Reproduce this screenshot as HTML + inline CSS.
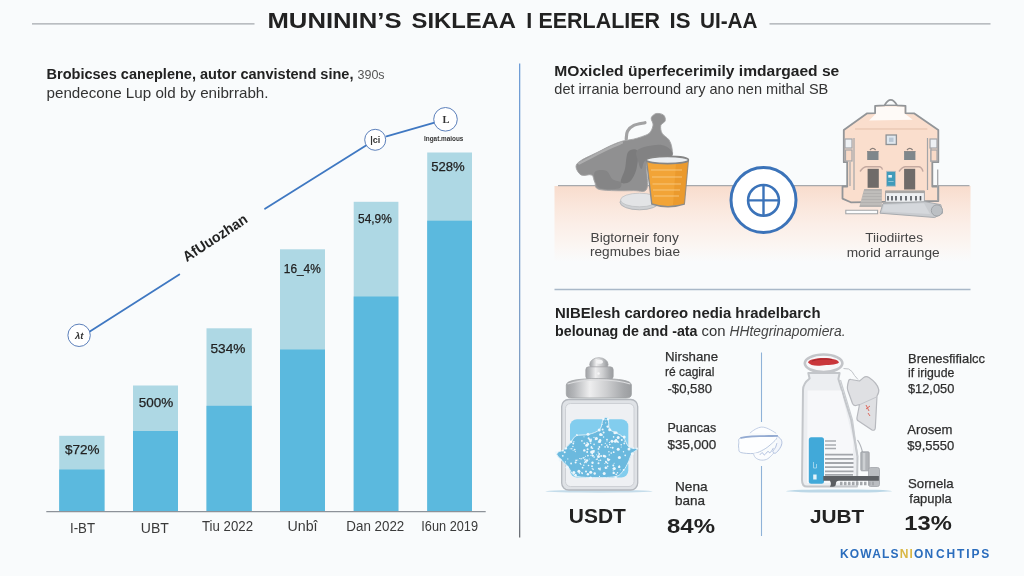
<!DOCTYPE html>
<html lang="en">
<head>
<meta charset="utf-8">
<title>Infographic</title>
<style>
html,body{margin:0;padding:0;background:#f9fbfc;}
body{width:1024px;height:576px;overflow:hidden;position:relative;font-family:"Liberation Sans",sans-serif;}
svg{position:absolute;left:0;top:0;display:block}
text{font-family:"Liberation Sans",sans-serif;fill:#2a2a2a}
.b{font-weight:bold}
.lbl{font-size:13px;fill:#222;stroke:#222;stroke-width:0.25px}
.ax{font-size:14px;fill:#3a3a3a}
.cap{font-size:13px;fill:#444}
.v{font-size:13px;fill:#2e2e2e;stroke:#2e2e2e;stroke-width:0.25px}
</style>
</head>
<body>
<svg width="1024" height="576" viewBox="0 0 1024 576">
<defs>
<linearGradient id="peach" x1="0" y1="0" x2="0" y2="1">
<stop offset="0" stop-color="#f8dccd"/>
<stop offset="0.25" stop-color="#fae6db"/>
<stop offset="0.5" stop-color="#fbeee7"/>
<stop offset="0.8" stop-color="#fbf6f3"/>
<stop offset="1" stop-color="#f9fbfc"/>
</linearGradient>
<linearGradient id="silver" x1="0" y1="0" x2="1" y2="0">
<stop offset="0" stop-color="#a0a2a5"/>
<stop offset="0.12" stop-color="#b4b6b9"/>
<stop offset="0.36" stop-color="#eeeeef"/>
<stop offset="0.62" stop-color="#cdced0"/>
<stop offset="0.88" stop-color="#a6a8ab"/>
<stop offset="1" stop-color="#9b9da0"/>
</linearGradient>
<linearGradient id="divg" x1="0" y1="0" x2="0" y2="1">
<stop offset="0" stop-color="#6f9dd6"/>
<stop offset="0.6" stop-color="#7f9fc6"/>
<stop offset="0.9" stop-color="#7d8ea6"/>
<stop offset="1" stop-color="#6a6d72"/>
</linearGradient>
</defs>
<rect width="1024" height="576" fill="#f9fbfc"/>

<!-- ===== TITLE ===== -->
<g id="title">
<line x1="32" y1="23.8" x2="254.5" y2="23.8" stroke="#a4a9ae" stroke-width="1.2"/>
<line x1="769.5" y1="23.8" x2="990.5" y2="23.8" stroke="#a4a9ae" stroke-width="1.2"/>
<text id="ttl" y="27.6" class="b" font-size="21.5" style="fill:#222"><tspan x="267.5" textLength="134" lengthAdjust="spacingAndGlyphs">MUNININ’S</tspan><tspan x="411.5" textLength="104.5" lengthAdjust="spacingAndGlyphs">SIKLEAA</tspan><tspan x="526.3">I</tspan><tspan x="538.5" textLength="121.5" lengthAdjust="spacingAndGlyphs">EERLALIER</tspan><tspan x="669.5" textLength="21" lengthAdjust="spacingAndGlyphs">IS</tspan><tspan x="700" textLength="57.5" lengthAdjust="spacingAndGlyphs">UI-AA</tspan></text>
</g>

<!-- divider -->
<rect x="519" y="63.5" width="1.3" height="474" fill="url(#divg)"/>

<!-- ===== LEFT HEADER ===== -->
<g id="lefthead">
<text x="46.5" y="78.8" font-size="14.5" style="fill:#222"><tspan class="b" textLength="307" lengthAdjust="spacingAndGlyphs">Brobicses caneplene, autor canvistend sine,</tspan><tspan style="fill:#555" dx="4" font-size="12.5">390s</tspan></text>
<text id="lh2" x="46.5" y="98" font-size="14.5" style="fill:#333" textLength="222" lengthAdjust="spacingAndGlyphs">pendecone Lup old by enibrrabh.</text>
</g>

<!-- ===== BAR CHART ===== -->
<g id="chart">
<!-- bars: light then dark -->
<rect x="59.2" y="435.8" width="45.3" height="76" fill="#aed8e4"/>
<rect x="59.2" y="469.5" width="45.3" height="42" fill="#5bb9de"/>
<rect x="133" y="385.5" width="45" height="126" fill="#aed8e4"/>
<rect x="133" y="431" width="45" height="80.5" fill="#5bb9de"/>
<rect x="206.5" y="328.3" width="45.3" height="183" fill="#aed8e4"/>
<rect x="206.5" y="405.8" width="45.3" height="105.7" fill="#5bb9de"/>
<rect x="280" y="249.3" width="45" height="262" fill="#aed8e4"/>
<rect x="280" y="349.5" width="45" height="162" fill="#5bb9de"/>
<rect x="353.7" y="201.8" width="44.7" height="309.7" fill="#aed8e4"/>
<rect x="353.7" y="296.5" width="44.7" height="215" fill="#5bb9de"/>
<rect x="427.2" y="152.5" width="44.8" height="359" fill="#aed8e4"/>
<rect x="427.2" y="220.7" width="44.8" height="290.8" fill="#5bb9de"/>
<line x1="46.3" y1="511.7" x2="485.7" y2="511.7" stroke="#8d9299" stroke-width="1.2"/>
<!-- bar labels -->
<text class="lbl" x="65" y="454.3" textLength="34.5" lengthAdjust="spacingAndGlyphs">$72%</text>
<text class="lbl" x="138.8" y="406.8" textLength="34.5" lengthAdjust="spacingAndGlyphs">500%</text>
<text class="lbl" x="210.5" y="353" textLength="35" lengthAdjust="spacingAndGlyphs">534%</text>
<text class="lbl" x="283.8" y="272.5" textLength="37" lengthAdjust="spacingAndGlyphs">16_4%</text>
<text class="lbl" x="358" y="223" textLength="33.8" lengthAdjust="spacingAndGlyphs">54,9%</text>
<text class="lbl" x="431.2" y="170.5" textLength="33.5" lengthAdjust="spacingAndGlyphs">528%</text>
<!-- axis labels -->
<text class="ax" x="70" y="532.5" textLength="25" lengthAdjust="spacingAndGlyphs">I-BT</text>
<text class="ax" x="140.8" y="532.5" textLength="28" lengthAdjust="spacingAndGlyphs">UBT</text>
<text class="ax" x="202" y="530.5" textLength="51" lengthAdjust="spacingAndGlyphs">Tiu 2022</text>
<text class="ax" x="287.5" y="530.8" textLength="30" lengthAdjust="spacingAndGlyphs">Unbî</text>
<text class="ax" x="346.3" y="530.8" textLength="58" lengthAdjust="spacingAndGlyphs">Dan 2022</text>
<text class="ax" x="421.3" y="530.8" textLength="56.7" lengthAdjust="spacingAndGlyphs">I6un 2019</text>
<!-- trend line -->
<g stroke="#3f78c2" stroke-width="1.8" stroke-linecap="round" fill="none">
<line x1="90.2" y1="331.3" x2="179.3" y2="274.5"/>
<line x1="265" y1="208.7" x2="366" y2="145.5"/>
<line x1="386.5" y1="136.3" x2="434.5" y2="122.7"/>
</g>
<g fill="#fff" stroke="#5c80bb" stroke-width="1">
<circle cx="79.1" cy="335.3" r="11.2"/>
<circle cx="375.2" cy="139.8" r="10.5"/>
<circle cx="445.5" cy="119.3" r="11.8"/>
</g>
<text x="79.3" y="338.6" font-size="9.5" text-anchor="middle" class="b" style="fill:#333;font-style:italic">λt</text>
<text x="375.2" y="143" font-size="9" text-anchor="middle" class="b" style="fill:#333">|ci</text>
<text x="446" y="122.8" font-size="10.5" text-anchor="middle" class="b" style="fill:#333;font-family:'Liberation Serif',serif">L</text>
<text x="424" y="141" font-size="7.6" class="b" style="fill:#333" textLength="39.4" lengthAdjust="spacingAndGlyphs">Ingat.maious</text>
<text class="b" font-size="14.5" style="fill:#222" transform="translate(186.8,262.2) rotate(-33.2)" textLength="74" lengthAdjust="spacingAndGlyphs">AfUuozhan</text>
</g>

<!-- ===== RIGHT TOP ===== -->
<g id="righttop">
<text x="554.3" y="75.8" font-size="14.5" class="b" style="fill:#222" textLength="285" lengthAdjust="spacingAndGlyphs">MOxicled üperfecerimily imdargaed se</text>
<text x="554.3" y="94.3" font-size="14.5" style="fill:#333" textLength="274" lengthAdjust="spacingAndGlyphs">det irrania berround ary ano nen mithal SB</text>
<!-- shelf -->
<rect x="554.5" y="186" width="416" height="76" fill="url(#peach)"/>
<line x1="558" y1="185.6" x2="969.5" y2="185.6" stroke="#a6a9ad" stroke-width="1.4"/>
<!-- grey blob -->
<path id="blob" d="M576.0,166.7 C576.0,164.2 577.6,162.8 581.2,160.4 C584.9,158.0 592.7,154.7 597.9,152.1 C603.1,149.5 608.3,146.6 612.5,144.8 C616.7,143.0 619.4,142.0 622.9,141.0 C626.4,140.1 630.2,139.9 633.3,139.2 C636.5,138.4 639.0,137.7 641.7,136.7 C644.4,135.6 647.7,134.9 649.6,132.9 C651.5,131.0 652.8,127.5 653.1,125.0 C653.4,122.5 650.7,119.8 651.2,117.9 C651.8,116.0 654.2,114.0 656.2,113.5 C658.3,113.1 662.0,113.8 663.5,115.0 C665.0,116.2 665.7,119.1 665.2,120.8 C664.8,122.6 661.4,123.3 660.8,125.4 C660.3,127.5 660.8,131.0 662.1,133.3 C663.4,135.7 667.1,137.2 668.8,139.6 C670.4,142.0 671.5,145.1 671.9,147.9 C672.3,150.8 673.5,154.9 671.2,156.7 C669.0,158.4 662.4,157.7 658.3,158.3 C654.3,159.0 648.8,155.4 646.9,160.4 C645.0,165.5 649.1,183.5 646.9,188.5 C644.6,193.6 641.1,190.5 633.3,190.6 C625.5,190.8 606.4,191.0 600.0,189.6 C593.6,188.2 596.2,184.7 594.8,182.3 C593.4,179.9 593.9,176.2 591.7,175.0 C589.4,173.8 583.9,176.4 581.2,175.0 C578.6,173.6 576.0,169.1 576.0,166.7Z" fill="#909091" stroke="#a3a3a4" stroke-width="0.9"/>
<path d="M626.2,139.2 C626.5,137.8 626.2,133.5 627.5,131.2 C628.8,129.0 630.8,126.8 633.8,125.4 C636.7,124.0 643.1,123.2 645.0,122.7" fill="none" stroke="#a2a2a3" stroke-width="3.2" stroke-linecap="round"/>
<path d="M579.2,163.5 C582.3,161.9 592.4,156.6 597.9,153.8 C603.5,150.9 608.5,148.5 612.5,146.7 C616.5,144.8 620.3,143.4 621.9,142.7" fill="none" stroke="#adadae" stroke-width="2.4" stroke-linecap="round"/>
<path d="M628.1,152.1 C630.2,149.1 636.1,148.3 637.5,151.0 C638.9,153.8 637.7,163.7 636.5,168.8 C635.2,173.8 632.8,179.0 630.2,181.2 C627.6,183.5 621.7,184.4 620.8,182.3 C620.0,180.2 623.8,173.8 625.0,168.8 C626.2,163.7 626.0,155.0 628.1,152.1Z" fill="#7b7b7c"/>
<path d="M637.5,150.0 C640.8,147.0 653.0,145.0 658.3,144.8 C663.7,144.6 667.7,147.0 669.8,149.0 C671.9,150.9 674.7,154.5 670.8,156.2 C667.0,158.0 651.7,157.3 646.9,159.4 C642.0,161.5 643.1,168.2 641.7,168.8 C640.3,169.3 639.2,165.6 638.5,162.5 C637.8,159.4 634.2,153.0 637.5,150.0Z" fill="#828283"/>
<path d="M594.8,171.9 C596.5,170.0 603.3,169.6 606.2,170.8 C609.2,172.0 610.1,177.3 612.5,179.2 C614.9,181.1 619.8,180.7 620.8,182.3 C621.9,183.9 622.0,187.5 618.8,188.5 C615.5,189.6 604.9,189.6 601.0,188.5 C597.2,187.5 596.9,185.1 595.8,182.3 C594.8,179.5 593.1,173.8 594.8,171.9Z" fill="#858586"/>
<!-- lid -->
<ellipse cx="639.5" cy="202.2" rx="19.5" ry="7.6" fill="#cfd1d4" stroke="#b4b6b9" stroke-width="1"/>
<ellipse cx="639.5" cy="200" rx="19" ry="6.8" fill="#e3e4e6" stroke="#bfc1c4" stroke-width="0.8"/>
<!-- cup -->
<path d="M646.5,160 L651.8,204 Q668,209.5 684.3,204 L688.3,160 Z" fill="#f2a437" stroke="#8c8c8c" stroke-width="1.4"/>
<path d="M676,163 L673,205 Q680,205 684.3,203.5 L688.3,160Z" fill="#e8952a" opacity="0.7"/>
<ellipse cx="667.4" cy="160" rx="21" ry="3.6" fill="#eceff2" stroke="#858585" stroke-width="1.6"/>
<g stroke="#f9cf8c" stroke-width="0.9" opacity="0.9">
<line x1="651" y1="170" x2="682" y2="170"/><line x1="652" y1="177" x2="682" y2="177"/><line x1="652.5" y1="184" x2="681" y2="184"/><line x1="653" y1="190" x2="680" y2="190"/><line x1="654" y1="196" x2="679" y2="196"/>
</g>
<!-- house -->
<path d="M843.8,138.6 L843.8,130.1 L867.2,113.3 L875.1,113.1 L875.1,105.8 L884.6,105.3 Q890.7,94.5 897.0,105.3 L905.5,105.8 L905.5,113.1 L914.0,113.3 L938.3,130.1 L938.3,138.6 L938.3,162.2 L932.3,162.2 L932.3,186.5 L938.3,186.5 L938.3,201.1 L927.4,201.1 L850.8,202.3 L842.5,198.6 L842.5,186.5 L847.2,186.5 L847.2,162.2 L843.8,162.2Z" fill="#fadecd"/>
<path d="M876,106.500 L904.600,106.500 L904.600,113.500 L912.800,119.800 L869.0,120.400 L876,113.500Z" fill="#fefaf7"/>
<path d="M884.6,105.3 Q890.7,94.5 897.0,105.3Z" fill="#f9fbfc"/>
<path d="M843.8,138.6 L843.8,130.1 L867.2,113.3 L875.1,113.1 L875.1,105.8 L884.6,105.3 Q890.7,94.5 897.0,105.3 L905.5,105.8 L905.5,113.1 L914.0,113.3 L938.3,130.1 L938.3,138.6 L938.3,162.2 L932.3,162.2 L932.3,186.5 L938.3,186.5 L938.3,201.1 L927.4,201.1 L850.8,202.3 L842.5,198.6 L842.5,186.5 L847.2,186.5 L847.2,162.2 L843.8,162.2Z" fill="none" stroke="#929598" stroke-width="1.8" stroke-linejoin="round"/>
<path d="M884.6,105.3 H897" stroke="#929598" stroke-width="1.4"/>
<line x1="855" y1="129" x2="927.4" y2="129" stroke="#e3bfa9" stroke-width="1"/>
<!-- wings -->
<g stroke="#a3a5a8" stroke-width="1.2" fill="none">
<line x1="854" y1="138" x2="854" y2="190"/><line x1="927.5" y1="138" x2="927.5" y2="190"/>
<line x1="850" y1="162" x2="850" y2="186"/><line x1="931" y1="140" x2="931" y2="162"/>
<rect x="845" y="139" width="7" height="9" fill="#eef1f4"/><rect x="845.5" y="150" width="6.5" height="11" fill="#f9dac7"/>
<rect x="930" y="139" width="7" height="9" fill="#eef1f4"/><rect x="931" y="150" width="6" height="11" fill="#f9dac7"/>
</g>
<line x1="937.7" y1="169.5" x2="937.7" y2="201" stroke="#a3a5a8" stroke-width="1.3"/>
<!-- clock -->
<rect x="886.1" y="135" width="10.3" height="9.5" fill="#dfe7ee" stroke="#8e9194" stroke-width="1.3"/>
<rect x="889" y="137.6" width="4.5" height="4.3" fill="#b9c6d3"/>
<!-- windows -->
<rect x="867.2" y="151.8" width="11.3" height="8.2" fill="#7f878b"/><rect x="904.1" y="151.8" width="11.3" height="8.2" fill="#7f878b"/>
<path d="M867,151.5 h11.8 M904,151.5 h11.6" stroke="#8a8a8a" stroke-width="1.2"/>
<path d="M870,150 q2.8,-3.4 5.6,0 M907,150 q2.8,-3.4 5.6,0" stroke="#8a7f7a" stroke-width="1.2" fill="none"/>
<!-- doors -->
<rect x="867.6" y="168.8" width="11.2" height="19" fill="#6f6b69"/><rect x="904.1" y="168.8" width="11.1" height="20.7" fill="#6f6b69"/>
<path d="M860,171.5 q3,-4.5 6,-4.8 h14 q2,0.5 2.5,3 M899,171.5 q3,-4.5 6,-4.8 h14 q3,0.5 4,5" stroke="#c4a9a0" stroke-width="1.4" fill="none"/>
<!-- sign -->
<rect x="886.4" y="171.3" width="9.1" height="14.9" fill="#3f9bba" stroke="#b9bcc0" stroke-width="0.8"/>
<rect x="888.3" y="175" width="3.6" height="2.6" fill="#e9f4f8"/><rect x="888.3" y="181" width="5.3" height="1" fill="#8cc4d6"/>
<!-- stairs, base -->
<path d="M864.2,189.1 L881.8,189.1 L881.8,207.1 L859.3,207.1Z" fill="#b3b1af"/>
<path d="M863.5,192 h18 M862.6,195 h19 M861.8,198 h20 M861,201 h20.6 M860.2,204 h21.4" stroke="#d2cfcc" stroke-width="0.8"/>
<path d="M845.8,210.2 h31.8 v3.6 h-31.8z" fill="#fbfcfd" stroke="#a3a5a8" stroke-width="1.1"/>
<!-- fence -->
<rect x="885.5" y="191.3" width="38.9" height="11" fill="#eef0f2" stroke="#a3a5a8" stroke-width="1"/>
<rect x="885.5" y="190.5" width="38.9" height="2.6" fill="#a8a6a4"/>
<path d="M888,196 v4.5 M892,196 v4.5 M896,196 v4.5 M901,196 v4.5 M906,196 v4.5 M911,196 v4.5 M916,196 v4.5 M920.5,196 v4.5" stroke="#4d5257" stroke-width="1.6"/>
<!-- slab + wheel -->
<path d="M883.0,203.5 L925.0,201.7 L940.8,204.7 L942.6,213.2 L934.7,217.5 L880.0,213.2Z" fill="#c9ccd0" stroke="#a7abaf" stroke-width="1"/>
<path d="M884,205 L924,203.2 L930,214 L882,211.5Z" fill="#d5d8dc"/>
<circle cx="936.9" cy="210.5" r="5.6" fill="#bcc0c4" stroke="#9fa3a7" stroke-width="1"/>
<!-- center icon -->
<circle cx="763.5" cy="200" r="32.5" fill="#fff" stroke="#3b73b9" stroke-width="3"/>
<circle cx="763.5" cy="200.4" r="15.4" fill="#fff" stroke="#3b73b9" stroke-width="2.6"/>
<path d="M763.5,185 V216 M748,200.4 H779" stroke="#3b73b9" stroke-width="2.4"/>
<!-- captions -->
<text class="cap" x="590.5" y="241.8" textLength="88.3" lengthAdjust="spacingAndGlyphs">Bigtorneir fony</text>
<text class="cap" x="590" y="256.3" textLength="90" lengthAdjust="spacingAndGlyphs">regmubes biae</text>
<text class="cap" x="865.3" y="241.7" textLength="57.7" lengthAdjust="spacingAndGlyphs">Tiiodiirtes</text>
<text class="cap" x="846.7" y="256.7" textLength="93" lengthAdjust="spacingAndGlyphs">morid arraunge</text>
<line x1="554.5" y1="289.5" x2="970.5" y2="289.5" stroke="#a9b8c8" stroke-width="1.3"/>
</g>


<!-- ===== RIGHT BOTTOM ===== -->
<g id="rightbottom">
<text x="555" y="318" font-size="14.5" class="b" style="fill:#222" textLength="265.5" lengthAdjust="spacingAndGlyphs">NIBElesh cardoreo nedia hradelbarch</text>
<text x="555" y="335.8" font-size="14.5" style="fill:#222"><tspan class="b" textLength="142.5" lengthAdjust="spacingAndGlyphs">belounag de and -ata</tspan><tspan dx="4" style="fill:#333" textLength="24" lengthAdjust="spacingAndGlyphs">con</tspan><tspan dx="4" style="fill:#444" font-style="italic" textLength="116" lengthAdjust="spacingAndGlyphs">HHtegrinapomiera.</tspan></text>
<!-- center divider + icon -->
<line x1="761.5" y1="352.5" x2="761.5" y2="422" stroke="#8fb2d8" stroke-width="1.1"/>
<line x1="761.5" y1="466" x2="761.5" y2="536" stroke="#8fb2d8" stroke-width="1.1"/>
<path d="M749.9,433.1 C750.8,432.4 753.4,430.2 755.4,429.2 C757.4,428.2 759.5,427.1 761.7,427.1 C763.9,427.0 766.2,427.8 768.6,428.9 C771.0,429.9 775.0,432.6 776.2,433.3" fill="#fdfeff" stroke="#bccae2" stroke-width="0.9"/>
<path d="M741.1,437.8 C737.3,438.9 739.1,441.2 738.8,443.1 C738.4,444.9 738.4,447.0 738.8,448.6 C739.1,450.2 738.4,451.7 740.8,452.5 C743.3,453.3 749.9,453.8 753.3,453.5 C756.8,453.2 758.9,452.1 761.7,450.7 C764.4,449.3 767.4,447.5 770.0,445.1 C772.6,442.8 778.6,437.8 777.2,436.4 C775.8,434.9 767.7,436.2 761.7,436.4 C755.6,436.6 744.9,436.7 741.1,437.8Z" fill="#fdfeff" stroke="#b3c3de" stroke-width="0.9"/>
<path d="M753.3,453.5 C753.7,454.2 754.3,456.6 755.4,457.6 C756.6,458.7 758.4,459.7 760.3,460.0 C762.1,460.3 764.7,460.2 766.5,459.4 C768.4,458.7 770.0,456.9 771.4,455.6 C772.8,454.3 774.3,452.3 774.9,451.7" fill="#fbfcfe" stroke="#b9c7e0" stroke-width="0.9"/>
<path d="M777.2,435.8 C777.9,436.5 780.3,438.3 781.1,439.6 C781.9,440.9 782.0,442.2 781.8,443.8 C781.6,445.3 780.8,447.1 779.7,448.6 C778.7,450.2 776.7,452.5 775.6,453.1 C774.4,453.6 772.8,452.6 772.8,451.7 C772.8,450.7 774.9,448.7 775.6,447.2 C776.2,445.8 776.7,443.8 776.9,443.1" fill="#f3f6fb" stroke="#a9badb" stroke-width="0.9"/>
<path d="M741.1,437.8 C742.9,437.5 748.1,436.7 751.9,436.4 C755.8,436.1 760.2,436.2 764.4,436.1 C768.7,436.0 775.1,435.9 777.2,435.8" fill="none" stroke="#94abd2" stroke-width="1.8" stroke-linecap="round"/>
<path d="M759.6,454.9 C760.0,454.5 761.6,452.8 762.4,452.8 C763.2,452.8 763.5,455.1 764.4,454.9 C765.4,454.6 767.0,451.7 767.9,451.4 C768.8,451.0 769.1,453.4 770.0,452.8 C770.9,452.2 772.9,448.7 773.5,447.9" fill="none" stroke="#a9badb" stroke-width="0.9"/>
<!-- jar -->
<ellipse cx="599" cy="491.3" rx="53.5" ry="1.4" fill="#c4dcea"/>
<rect x="561.7" y="399.5" width="76" height="90.5" rx="7" fill="#dfe2e6" stroke="#b3b7bd" stroke-width="1.3"/>
<rect x="565.5" y="403.500" width="68.5" height="83" rx="5" fill="#eef0f3" stroke="#cdd0d5" stroke-width="1"/>
<rect x="570" y="419.2" width="58.3" height="58.3" rx="7" fill="#82cdee"/>
<path d="M556.7,453.3 C557.1,451.7 561.3,451.5 563.6,449.7 C565.9,448.0 568.5,445.1 570.6,442.8 C572.6,440.5 573.1,437.2 576.1,435.8 C579.1,434.4 584.7,435.5 588.6,434.4 C592.5,433.4 597.3,432.0 599.7,429.4 C602.2,426.9 601.9,421.0 603.3,419.2 C604.7,417.3 607.0,416.7 608.1,418.3 C609.1,420.0 608.1,426.4 609.4,428.9 C610.8,431.3 614.1,431.7 616.4,433.1 C618.7,434.4 621.2,434.9 623.3,437.2 C625.4,439.5 626.6,445.0 628.9,446.9 C631.2,448.9 636.8,447.7 637.2,448.9 C637.7,450.0 633.1,451.7 631.7,453.9 C630.2,456.1 629.7,459.4 628.3,462.2 C626.9,465.0 625.6,468.1 623.3,470.6 C621.1,473.0 620.6,475.5 615.0,476.7 C609.4,477.8 596.7,477.7 590.0,477.5 C583.3,477.3 578.4,477.4 574.7,475.6 C571.0,473.7 570.1,469.1 567.8,466.4 C565.5,463.7 562.7,461.6 560.8,459.4 C559.0,457.3 556.2,455.0 556.7,453.3Z" fill="#6bb9de" stroke="#d9eef8" stroke-width="1"/>
<g fill="#eef7fc"><circle cx="593.2" cy="451.6" r="1.5"/><circle cx="593.1" cy="469.3" r="0.8"/><circle cx="571.8" cy="448.7" r="0.7"/><circle cx="609.3" cy="454.9" r="0.7"/><circle cx="606.9" cy="467.9" r="0.6"/><circle cx="594.1" cy="444.4" r="0.8"/><circle cx="598.5" cy="456.4" r="1.5"/><circle cx="609.4" cy="442.4" r="0.6"/><circle cx="613.6" cy="436.9" r="0.8"/><circle cx="602.1" cy="424.5" r="0.6"/><circle cx="624.7" cy="441.2" r="0.5"/><circle cx="573.8" cy="472.6" r="1.5"/><circle cx="587.0" cy="460.5" r="1.2"/><circle cx="562.8" cy="455.8" r="0.9"/><circle cx="584.0" cy="436.7" r="0.5"/><circle cx="601.7" cy="444.8" r="0.8"/><circle cx="590.5" cy="441.0" r="1.2"/><circle cx="621.3" cy="436.2" r="0.5"/><circle cx="573.9" cy="441.7" r="0.6"/><circle cx="605.8" cy="467.8" r="1.2"/><circle cx="603.6" cy="432.6" r="1.0"/><circle cx="586.7" cy="445.2" r="1.5"/><circle cx="587.9" cy="455.6" r="0.9"/><circle cx="616.2" cy="474.4" r="0.8"/><circle cx="612.0" cy="441.3" r="1.5"/><circle cx="605.3" cy="443.3" r="0.6"/><circle cx="565.7" cy="448.7" r="0.9"/><circle cx="576.1" cy="460.3" r="0.9"/><circle cx="590.7" cy="472.3" r="1.5"/><circle cx="575.3" cy="451.6" r="0.6"/><circle cx="579.4" cy="473.0" r="0.8"/><circle cx="599.5" cy="476.4" r="0.6"/><circle cx="586.0" cy="471.5" r="1.0"/><circle cx="609.6" cy="459.5" r="0.7"/><circle cx="604.2" cy="473.4" r="1.5"/><circle cx="607.9" cy="446.9" r="0.9"/><circle cx="563.0" cy="450.8" r="0.5"/><circle cx="613.3" cy="465.6" r="1.0"/><circle cx="585.1" cy="459.1" r="0.6"/><circle cx="620.2" cy="469.8" r="0.5"/><circle cx="607.0" cy="440.9" r="0.5"/><circle cx="605.7" cy="422.8" r="0.6"/><circle cx="615.3" cy="441.3" r="1.5"/><circle cx="592.2" cy="468.3" r="0.6"/><circle cx="598.5" cy="448.9" r="0.9"/><circle cx="605.1" cy="446.9" r="0.8"/><circle cx="619.4" cy="457.6" r="1.5"/><circle cx="581.1" cy="458.7" r="0.8"/><circle cx="598.5" cy="463.2" r="1.0"/><circle cx="609.8" cy="444.5" r="0.8"/><circle cx="583.2" cy="458.0" r="0.8"/><circle cx="607.7" cy="466.2" r="0.8"/><circle cx="603.6" cy="437.0" r="0.7"/><circle cx="594.7" cy="473.5" r="1.2"/><circle cx="587.6" cy="449.2" r="1.0"/><circle cx="614.3" cy="468.5" r="1.5"/><circle cx="582.6" cy="467.7" r="0.9"/><circle cx="613.7" cy="452.2" r="0.9"/><circle cx="608.9" cy="451.8" r="0.7"/><circle cx="619.3" cy="465.8" r="0.6"/><circle cx="592.7" cy="455.8" r="1.0"/><circle cx="572.9" cy="446.5" r="0.7"/><circle cx="614.1" cy="463.3" r="0.5"/><circle cx="584.7" cy="459.8" r="0.7"/><circle cx="588.5" cy="465.5" r="0.8"/><circle cx="593.3" cy="455.5" r="0.5"/><circle cx="587.1" cy="452.1" r="1.0"/><circle cx="594.1" cy="457.1" r="0.8"/><circle cx="584.4" cy="443.3" r="0.9"/><circle cx="583.8" cy="465.3" r="0.7"/><circle cx="629.0" cy="449.1" r="1.5"/><circle cx="574.7" cy="449.6" r="0.9"/><circle cx="623.5" cy="451.7" r="0.7"/><circle cx="598.8" cy="468.6" r="0.9"/><circle cx="581.9" cy="440.9" r="0.8"/><circle cx="600.6" cy="434.4" r="1.5"/><circle cx="573.1" cy="450.2" r="0.5"/><circle cx="605.4" cy="419.7" r="0.5"/><circle cx="598.3" cy="442.0" r="0.6"/><circle cx="596.3" cy="459.5" r="0.6"/><circle cx="596.4" cy="438.4" r="1.5"/><circle cx="577.8" cy="460.1" r="0.5"/><circle cx="614.9" cy="432.7" r="1.5"/><circle cx="565.4" cy="461.9" r="0.6"/><circle cx="625.2" cy="455.4" r="0.8"/><circle cx="613.1" cy="470.7" r="0.5"/><circle cx="587.1" cy="442.8" r="0.7"/><circle cx="600.1" cy="469.8" r="0.8"/><circle cx="599.4" cy="469.1" r="0.7"/><circle cx="575.6" cy="462.4" r="1.0"/><circle cx="582.2" cy="473.4" r="0.8"/><circle cx="588.0" cy="444.1" r="1.2"/><circle cx="600.5" cy="460.3" r="0.8"/><circle cx="589.2" cy="459.1" r="0.5"/><circle cx="564.7" cy="452.2" r="1.0"/><circle cx="566.2" cy="448.3" r="1.0"/><circle cx="597.2" cy="459.1" r="0.8"/><circle cx="621.2" cy="446.9" r="0.5"/><circle cx="598.2" cy="452.1" r="0.7"/><circle cx="579.6" cy="458.4" r="0.5"/><circle cx="567.8" cy="458.9" r="0.6"/><circle cx="618.2" cy="437.6" r="1.5"/><circle cx="591.1" cy="439.3" r="0.8"/><circle cx="613.1" cy="468.7" r="0.7"/><circle cx="589.6" cy="439.6" r="1.0"/><circle cx="570.2" cy="448.8" r="0.5"/><circle cx="602.6" cy="429.5" r="1.0"/><circle cx="619.2" cy="466.9" r="1.2"/><circle cx="600.1" cy="440.2" r="1.2"/><circle cx="618.2" cy="442.3" r="0.7"/><circle cx="585.5" cy="456.3" r="0.5"/><circle cx="575.6" cy="474.7" r="0.9"/><circle cx="584.0" cy="457.6" r="0.7"/><circle cx="599.6" cy="441.4" r="1.5"/><circle cx="608.4" cy="460.1" r="1.2"/><circle cx="606.2" cy="462.3" r="0.9"/><circle cx="592.5" cy="448.3" r="0.8"/><circle cx="584.3" cy="450.4" r="1.2"/><circle cx="604.8" cy="463.6" r="0.5"/><circle cx="587.9" cy="474.3" r="1.2"/><circle cx="596.6" cy="454.7" r="0.5"/><circle cx="591.4" cy="447.7" r="0.9"/><circle cx="599.1" cy="453.9" r="1.0"/><circle cx="599.4" cy="447.0" r="0.9"/><circle cx="601.9" cy="435.0" r="0.9"/><circle cx="603.9" cy="456.0" r="1.2"/><circle cx="617.4" cy="441.4" r="1.0"/><circle cx="591.4" cy="446.7" r="0.8"/><circle cx="576.6" cy="460.4" r="0.5"/><circle cx="606.9" cy="445.3" r="0.8"/><circle cx="605.1" cy="456.4" r="1.2"/><circle cx="586.1" cy="462.6" r="0.7"/><circle cx="607.0" cy="439.6" r="0.9"/><circle cx="605.8" cy="461.5" r="0.8"/><circle cx="607.6" cy="463.2" r="0.8"/><circle cx="633.2" cy="448.1" r="0.8"/><circle cx="591.0" cy="455.4" r="0.6"/><circle cx="617.5" cy="472.8" r="0.7"/><circle cx="601.1" cy="455.9" r="1.0"/><circle cx="595.7" cy="439.2" r="1.0"/><circle cx="584.5" cy="462.7" r="0.6"/><circle cx="621.2" cy="444.8" r="0.8"/><circle cx="592.5" cy="462.8" r="1.2"/><circle cx="621.8" cy="440.1" r="1.0"/><circle cx="580.3" cy="463.5" r="0.7"/><circle cx="591.2" cy="440.2" r="0.6"/><circle cx="594.0" cy="437.4" r="0.6"/><circle cx="591.6" cy="452.1" r="1.5"/><circle cx="580.9" cy="464.5" r="0.6"/><circle cx="581.8" cy="472.6" r="0.6"/><circle cx="612.6" cy="447.7" r="1.0"/><circle cx="585.6" cy="461.6" r="1.0"/><circle cx="592.3" cy="453.7" r="0.9"/><circle cx="592.0" cy="466.2" r="0.9"/><circle cx="611.2" cy="453.1" r="0.8"/><circle cx="616.1" cy="440.1" r="1.2"/><circle cx="600.2" cy="468.2" r="0.7"/><circle cx="571.1" cy="463.5" r="0.9"/><circle cx="624.3" cy="443.4" r="0.9"/><circle cx="607.7" cy="426.6" r="1.2"/><circle cx="618.2" cy="449.3" r="1.5"/><circle cx="588.6" cy="438.3" r="1.0"/><circle cx="610.8" cy="447.6" r="0.6"/><circle cx="613.7" cy="472.9" r="1.2"/><circle cx="594.2" cy="450.5" r="0.5"/><circle cx="598.9" cy="460.6" r="0.6"/><circle cx="590.7" cy="443.2" r="0.7"/><circle cx="607.8" cy="459.0" r="1.0"/><circle cx="573.3" cy="443.5" r="0.9"/><circle cx="578.9" cy="471.2" r="1.5"/><circle cx="556.3" cy="452.6" r="1.5"/><circle cx="562.9" cy="450.6" r="0.9"/><circle cx="571.1" cy="441.8" r="1.2"/><circle cx="576.9" cy="434.9" r="0.9"/><circle cx="588.0" cy="434.2" r="1.5"/><circle cx="599.2" cy="429.9" r="1.5"/><circle cx="603.4" cy="419.1" r="1.2"/><circle cx="607.9" cy="419.2" r="1.2"/><circle cx="609.7" cy="429.8" r="1.5"/><circle cx="616.3" cy="432.6" r="1.2"/><circle cx="624.2" cy="436.9" r="1.5"/><circle cx="629.4" cy="446.1" r="0.9"/><circle cx="637.0" cy="448.3" r="0.9"/><circle cx="632.3" cy="453.7" r="1.5"/><circle cx="628.9" cy="462.8" r="0.9"/><circle cx="623.6" cy="470.0" r="0.9"/><circle cx="615.7" cy="477.5" r="1.2"/><circle cx="590.6" cy="477.9" r="1.5"/><circle cx="575.5" cy="475.4" r="1.2"/><circle cx="567.1" cy="467.2" r="1.5"/><circle cx="560.1" cy="459.9" r="1.5"/></g>
<ellipse cx="598.9" cy="364.5" rx="9.2" ry="6.8" fill="url(#silver)" stroke="#9fa1a4" stroke-width="0.7"/>
<ellipse cx="599.5" cy="361.8" rx="3.4" ry="2" fill="#f4f4f5"/>
<rect x="585.8" y="366.8" width="27.4" height="12.500" rx="3" fill="url(#silver)" stroke="#9fa1a4" stroke-width="0.7"/>
<circle cx="598.5" cy="373.5" r="1.2" fill="#f6f6f7"/>
<path d="M566.3,385 Q566.3,378.600 598.8,378.600 Q631.4,378.600 631.4,385 L631.4,394 Q631.4,398 626,398 L571.6,398 Q566.3,398 566.3,394Z" fill="url(#silver)" stroke="#a0a2a5" stroke-width="0.8"/>
<path d="M567.5,384 Q580,380 598.8,380 Q618,380 630.3,384" fill="none" stroke="#dcdddf" stroke-width="1.2"/>
<!-- jar texts -->
<text class="v" x="665" y="361.3" textLength="53" lengthAdjust="spacingAndGlyphs">Nirshane</text>
<text class="v" x="665" y="376.3" textLength="49.3" lengthAdjust="spacingAndGlyphs">ré cagiral</text>
<text class="v" x="667.5" y="392.5" textLength="44.5" lengthAdjust="spacingAndGlyphs">-$0,580</text>
<text class="v" x="667.5" y="431.8" textLength="48.7" lengthAdjust="spacingAndGlyphs">Puancas</text>
<text class="v" x="667.5" y="448.8" textLength="48.7" lengthAdjust="spacingAndGlyphs">$35,000</text>
<text class="v" x="675" y="490.5" textLength="32.5" lengthAdjust="spacingAndGlyphs">Nena</text>
<text class="v" x="675" y="505" textLength="30" lengthAdjust="spacingAndGlyphs">bana</text>
<text class="b" x="667" y="532.5" font-size="20.5" style="fill:#222" textLength="48" lengthAdjust="spacingAndGlyphs">84%</text>
<text class="b" x="568.8" y="522.5" font-size="19.5" style="fill:#222" textLength="57" lengthAdjust="spacingAndGlyphs">USDT</text>
<!-- bottle -->
<ellipse cx="839" cy="491" rx="53" ry="1.6" fill="#bcd8e7"/>
<path d="M808.3,373 L809.6,378.5 C805,382 803,386 803,390 L802,480 Q802,486.6 807,486.6 L857,486.6 L857.5,456.5 L851.2,420 L838.4,379 L839.6,373Z" fill="#eceef1" stroke="#c3c6ca" stroke-width="2" stroke-linejoin="round"/>
<path d="M807.6,390.5 L841.2,390.5 L853,440 L853.5,483 L807,483Z" fill="#f7f8fa"/>
<rect x="808.8" y="437.2" width="15.2" height="46.6" rx="2.5" fill="#41a9d9"/>
<path d="M813.5,462 v6 h3 v-4" stroke="#a6d8ee" stroke-width="0.9" fill="none"/><rect x="813.2" y="474.500" width="3.4" height="5" fill="#e4f3fa"/>
<path d="M825,441 h11 M825,445 h11 M825,448.500 h11" stroke="#a9acb1" stroke-width="1.6"/>
<path d="M825,454.600 h28 M825,458.800 h28.500 M825,463 h28.500 M825,467.100 h28.500 M825,471.300 h28.500 M825,474.800 h28" stroke="#a3a6ab" stroke-width="1.8"/>
<path d="M840.5,380 L852.500,420 L857.6,457" stroke="#c9ccd0" stroke-width="1.2" fill="none"/>
<ellipse cx="823.6" cy="363.3" rx="18.8" ry="8.8" fill="#f7f7f9" stroke="#c3c5c9" stroke-width="2.6"/>
<path d="M808,362.500 C809,356.500 838,356.500 839,362.500 C836,365.500 827,364.500 822,365.500 C815,366.500 810,365 808,362.500Z" fill="#c9363b"/>
<path d="M812,361 q8,-3 20,-1.500" stroke="#a3262c" stroke-width="1" fill="none"/>
<path d="M843.5,368.500 q6,-0.500 8.500,3 q2,4 6,8" stroke="#c0c3c8" stroke-width="1" fill="none"/>
<path d="M848.6,381 Q849,379 851,379.500 L859.500,381 Q861.500,379.500 863.500,377.600 Q866,375.600 869,377.500 Q877,383 878.600,389 Q879.500,392 877,396 L875.300,428 Q875,431 872,430 L858.500,421 Q856.500,420 857,417.500 L859.500,404.500 L856,405.500 Q853.500,406 852.500,403.500 L848,391 Q846.500,388 848.600,381Z" fill="#dfe0e3" stroke="#b7b9be" stroke-width="1.2" stroke-linejoin="round"/>
<path d="M860,404.500 L876.500,397" stroke="#c3c5ca" stroke-width="1" fill="none"/>
<path d="M866,405 l3,6 m-3,-2 l4,-3 m-2,7 l2,3" stroke="#dd6a5e" stroke-width="1" fill="none"/>
<path d="M857.500,440 q3,4 5,12" stroke="#b4b7bc" stroke-width="1.2" fill="none"/>
<rect x="860.8" y="451.800" width="8.4" height="19" rx="1" fill="#b1b4b8" stroke="#9b9ea3" stroke-width="0.8"/>
<rect x="862.800" y="453" width="2.500" height="17" fill="#cdd0d3"/>
<rect x="868.500" y="467.500" width="11" height="19" rx="2" fill="#babdc1" stroke="#a2a5aa" stroke-width="0.8"/>
<path d="M823.300,476 h55.600 v4.700 h-40 q-3,0 -3,3 q0,3 -3,3 h-3 q2,-3 0,-6 h-6.600z" fill="#5c5f63"/>
<path d="M840,483.500 h34" stroke="#a4a7ab" stroke-width="3.500" stroke-dasharray="2.500 1.500"/>
<!-- bottle texts -->
<text class="v" x="908" y="363" textLength="77" lengthAdjust="spacingAndGlyphs">Brenesfifialcc</text>
<text class="v" x="908" y="376.8" textLength="46.3" lengthAdjust="spacingAndGlyphs">if irigude</text>
<text class="v" x="908" y="393.3" textLength="46.3" lengthAdjust="spacingAndGlyphs">$12,050</text>
<text class="v" x="907.3" y="433.8" textLength="45.2" lengthAdjust="spacingAndGlyphs">Arosem</text>
<text class="v" x="907.3" y="450" textLength="47" lengthAdjust="spacingAndGlyphs">$9,5550</text>
<text class="v" x="908" y="487.8" textLength="45.5" lengthAdjust="spacingAndGlyphs">Sornela</text>
<text class="v" x="909.3" y="502.5" textLength="42.5" lengthAdjust="spacingAndGlyphs">fapupla</text>
<text class="b" x="904.3" y="529.5" font-size="21" style="fill:#222" textLength="47.5" lengthAdjust="spacingAndGlyphs">13%</text>
<text class="b" x="810" y="522.5" font-size="19" style="fill:#222" textLength="54.3" lengthAdjust="spacingAndGlyphs">JUBT</text>
<text class="b" y="557.8" font-size="12" style="fill:#2b6dbd"><tspan x="840" textLength="93.2" lengthAdjust="spacing">KOWALS<tspan style="fill:#d9b744">NI</tspan>ON</tspan><tspan x="936" textLength="53.300" lengthAdjust="spacing">CHTIPS</tspan></text>
</g>


</svg>
</body>
</html>
